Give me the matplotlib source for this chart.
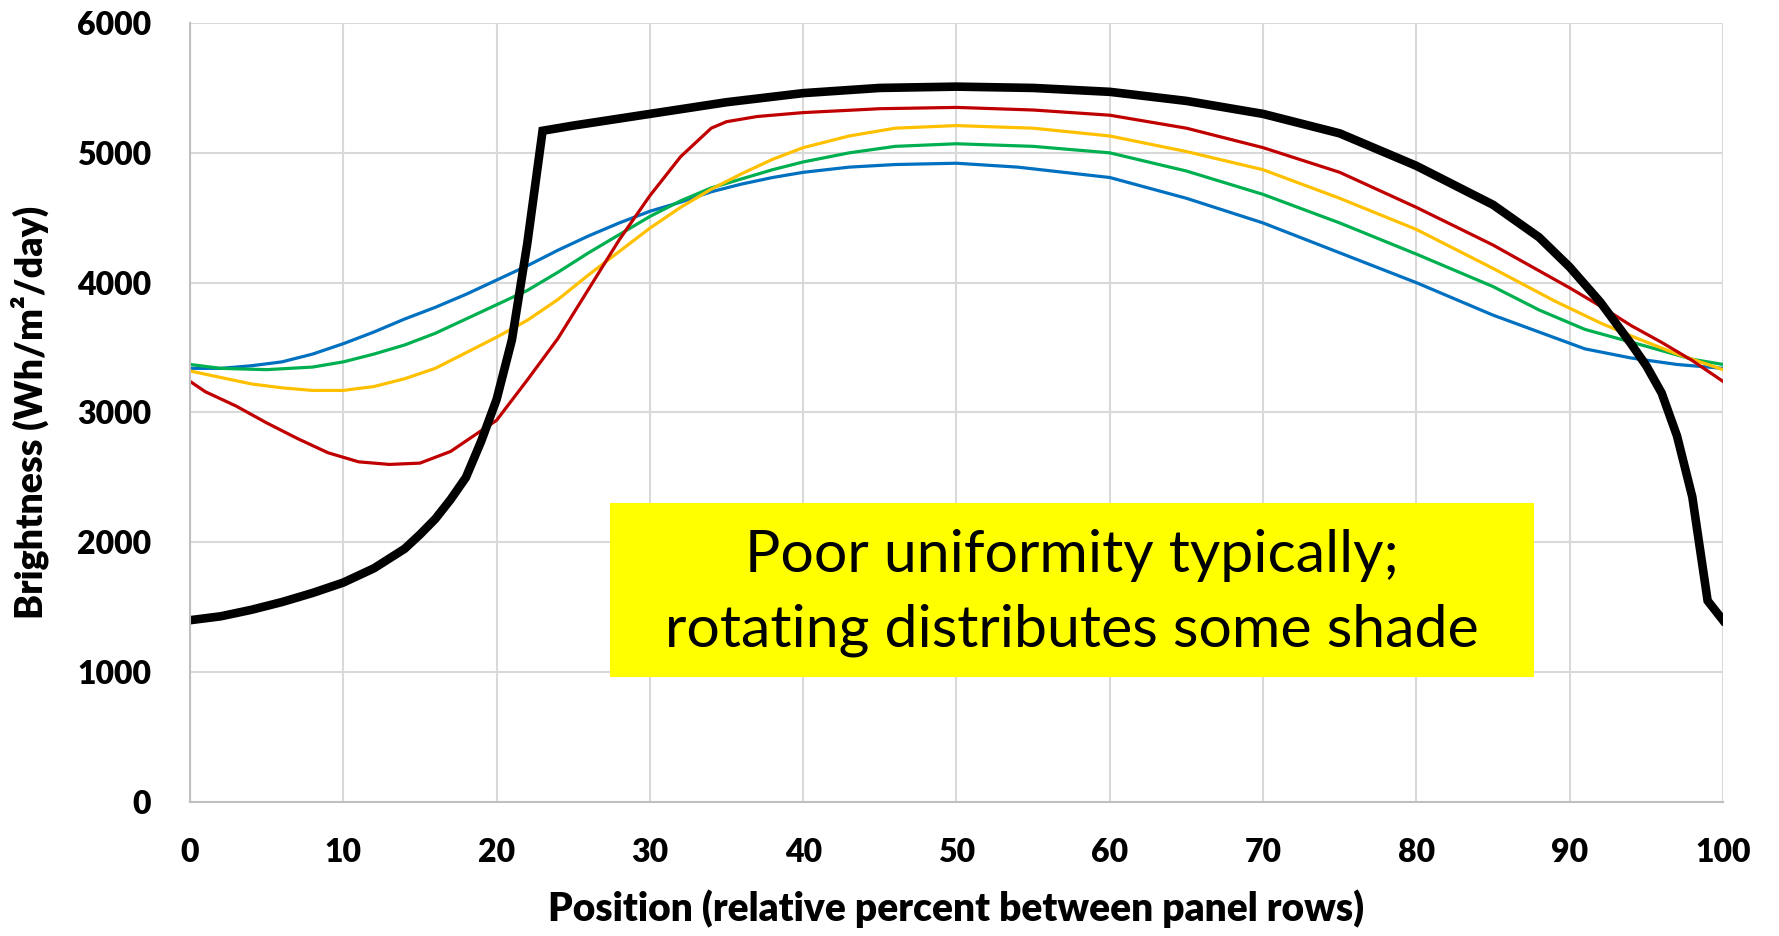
import numpy as np
import matplotlib.pyplot as plt

plt.rcParams['font.family'] = ['Lato', 'DejaVu Sans']

# brightness profiles across the gap between panel rows
x_black = [0, 2, 4, 6, 8, 10, 12, 14, 15, 16, 17, 18, 19, 20, 21, 22, 23, 25, 30, 35,
           40, 45, 50, 55, 60, 65, 70, 73, 75, 80, 83, 85, 88, 90, 92, 93, 94, 95, 96,
           97, 98, 99, 100]
y_black = [1400, 1430, 1480, 1540, 1610, 1690, 1800, 1950, 2060, 2180, 2330, 2500, 2780,
           3100, 3560, 4300, 5170, 5210, 5300, 5390, 5460, 5500, 5510, 5500, 5470, 5400,
           5300, 5210, 5150, 4900, 4720, 4600, 4350, 4120, 3850, 3690, 3530, 3360, 3150,
           2820, 2350, 1550, 1400]

x_red = [0, 1, 3, 5, 7, 9, 11, 13, 15, 17, 18, 20, 22, 24, 26, 28, 30, 32, 34, 35, 37,
         40, 45, 50, 55, 60, 65, 70, 75, 80, 85, 90, 92, 94, 96, 98, 100]
y_red = [3240, 3160, 3050, 2920, 2800, 2690, 2620, 2600, 2610, 2700, 2780, 2940, 3250,
         3570, 3950, 4330, 4670, 4970, 5190, 5240, 5280, 5310, 5340, 5350, 5330, 5290,
         5190, 5040, 4850, 4580, 4290, 3960, 3820, 3670, 3540, 3400, 3240]

x_yellow = [0, 2, 4, 6, 8, 10, 12, 14, 16, 18, 20, 22, 24, 26, 28, 30, 32, 34, 36, 38,
            40, 43, 46, 50, 55, 60, 65, 70, 75, 80, 85, 89, 92, 94, 97, 100]
y_yellow = [3320, 3270, 3220, 3190, 3170, 3170, 3200, 3260, 3340, 3460, 3580, 3710, 3870,
            4060, 4240, 4420, 4580, 4720, 4840, 4950, 5040, 5130, 5190, 5210, 5190, 5130,
            5010, 4870, 4650, 4410, 4110, 3860, 3690, 3590, 3450, 3330]

x_green = [0, 2, 5, 8, 10, 12, 14, 16, 18, 20, 22, 24, 26, 28, 30, 32, 34, 36, 38, 40,
           43, 46, 50, 55, 60, 65, 70, 75, 80, 85, 88, 91, 95, 98, 100]
y_green = [3370, 3340, 3330, 3350, 3390, 3450, 3520, 3610, 3720, 3830, 3940, 4080, 4230,
           4370, 4510, 4630, 4730, 4800, 4870, 4930, 5000, 5050, 5070, 5050, 5000, 4860,
           4680, 4460, 4220, 3970, 3790, 3640, 3510, 3410, 3370]

x_blue = [0, 2, 4, 6, 8, 10, 12, 14, 16, 18, 20, 22, 24, 26, 28, 30, 32, 34, 36, 38, 40,
          43, 46, 50, 54, 57, 60, 65, 70, 75, 80, 85, 88, 91, 94, 97, 100]
y_blue = [3340, 3340, 3360, 3390, 3450, 3530, 3620, 3720, 3810, 3910, 4020, 4130, 4250,
          4360, 4460, 4550, 4620, 4700, 4760, 4810, 4850, 4890, 4910, 4920, 4890, 4850,
          4810, 4650, 4460, 4230, 4000, 3750, 3620, 3490, 3420, 3370, 3340]

fig = plt.figure(figsize=(17.79, 9.36), dpi=100)
ax = fig.add_axes([0.1068, 0.1432, 0.8617, 0.8322])

ax.plot(x_blue, y_blue, color='#0070C0', lw=2.3)
ax.plot(x_green, y_green, color='#00B050', lw=2.3)
ax.plot(x_yellow, y_yellow, color='#FFC000', lw=2.3)
ax.plot(x_red, y_red, color='#C00000', lw=2.3)
ax.plot(x_black, y_black, color='black', lw=6.2, solid_joinstyle='miter')

ax.set_xlim(0, 100)
ax.set_ylim(0, 6000)
ax.set_xticks(np.arange(0, 101, 10))
ax.set_yticks(np.arange(0, 6001, 1000))
ax.grid(True, color='#d9d9d9', lw=1.5)
ax.set_axisbelow(True)
for s in ['top', 'right']:
    ax.spines[s].set_visible(False)
for s in ['left', 'bottom']:
    ax.spines[s].set_color('#bfbfbf')
    ax.spines[s].set_linewidth(1.5)
ax.tick_params(length=0, labelsize=23)
ax.tick_params(axis='x', pad=26)
ax.tick_params(axis='y', pad=28)
for lbl in ax.get_xticklabels() + ax.get_yticklabels():
    lbl.set_fontweight('heavy')

ax.set_xlabel('Position (relative percent between panel rows)', fontsize=28,
              fontweight='heavy', labelpad=16)
ax.set_ylabel('Brightness (Wh/m²/day)', fontsize=27, fontweight='heavy', labelpad=20)

# callout box
ax.fill_between([27.4, 87.7], 963, 2303, color='yellow', lw=0, zorder=5)
ax.text(57.55, 1610, 'Poor uniformity typically;\nrotating distributes some shade',
        ha='center', va='center', fontsize=42.5, linespacing=1.5, zorder=6)

fig.savefig('out.png', dpi=100)
